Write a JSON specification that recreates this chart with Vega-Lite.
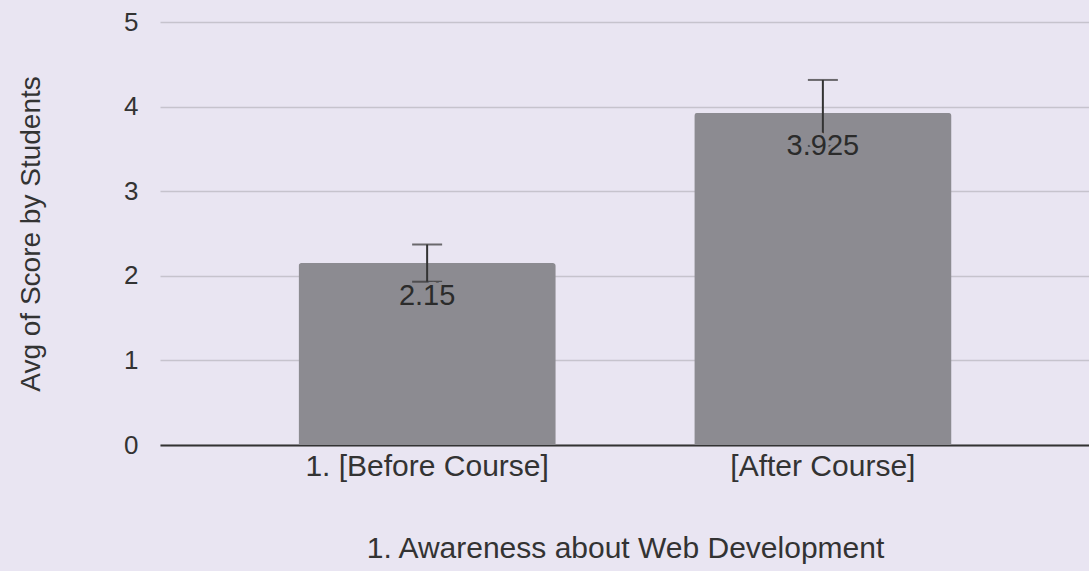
{
  "$schema": "https://vega.github.io/schema/vega-lite/v6.json",
  "autosize": "none",
  "width": 930,
  "height": 423,
  "padding": {"left": 160, "top": 22, "right": 0, "bottom": 126},
  "background": "#e9e5f2",
  "config": {
    "view": {"stroke": null},
    "font": "Liberation Sans",
    "axis": {"labelColor": "#333333", "titleColor": "#333333", "labelFontSize": 26, "titleFontSize": 28, "titleFontWeight": "normal"}
  },
  "data": {"values": [
    {"label": "1. [Before Course]", "avg": 2.15, "lo": 1.93, "hi": 2.37},
    {"label": "[After Course]", "avg": 3.925, "lo": 3.535, "hi": 4.315}
  ]},
  "encoding": {
    "x": {"field": "label", "type": "nominal", "sort": null,
      "scale": {"paddingInner": 0.35, "paddingOuter": 0.35},
      "axis": {"title": "1. Awareness about Web Development", "labelAngle": 0, "ticks": false, "labelLimit": 0, "labelFontSize": 30, "labelPadding": 6, "titleFontSize": 30, "titlePadding": 52, "domainColor": "#333333", "domainWidth": 2}}
  },
  "layer": [
    {
      "mark": {"type": "bar", "color": "#8c8b91", "cornerRadiusTopLeft": 3, "cornerRadiusTopRight": 3},
      "encoding": {
        "y": {"field": "avg", "type": "quantitative", "scale": {"domain": [0, 5]},
          "axis": {"title": "Avg of Score by Students", "values": [0, 1, 2, 3, 4, 5], "format": "d", "gridColor": "#c6c3cd", "gridWidth": 1.5, "domain": false, "ticks": false, "labelPadding": 22, "titlePadding": 78}}
      }
    },
    {
      "mark": {"type": "rule", "color": "#333333", "strokeWidth": 2},
      "encoding": {"y": {"field": "lo", "type": "quantitative"}, "y2": {"field": "hi"}}
    },
    {
      "mark": {"type": "tick", "color": "#333333", "thickness": 2, "size": 30},
      "encoding": {"y": {"field": "hi", "type": "quantitative"}}
    },
    {
      "mark": {"type": "tick", "color": "#333333", "thickness": 2, "size": 30},
      "encoding": {"y": {"field": "lo", "type": "quantitative"}}
    },
    {
      "mark": {"type": "text", "fontSize": 29, "baseline": "middle", "dy": 33, "stroke": "#8c8b91", "strokeWidth": 6, "fill": "#8c8b91"},
      "encoding": {"y": {"field": "avg", "type": "quantitative"}, "text": {"field": "avg", "type": "quantitative"}}
    },
    {
      "mark": {"type": "text", "fontSize": 29, "baseline": "middle", "dy": 33, "color": "#2b2b2b"},
      "encoding": {"y": {"field": "avg", "type": "quantitative"}, "text": {"field": "avg", "type": "quantitative"}}
    }
  ]
}
